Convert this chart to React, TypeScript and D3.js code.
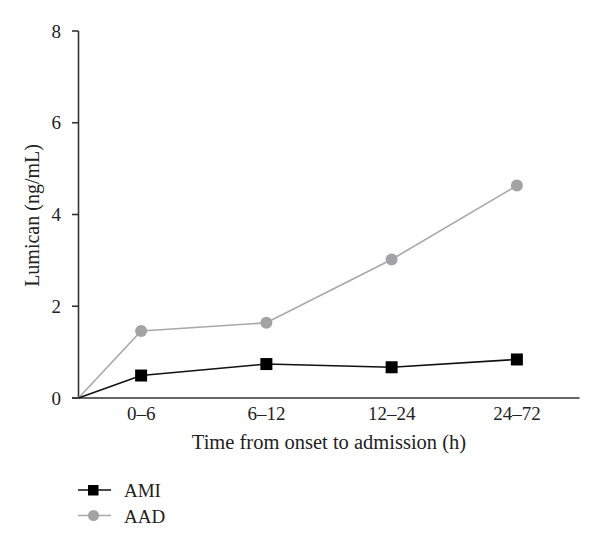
import React from "react";
import * as d3 from "d3";

const categories = ["0–6", "6–12", "12–24", "24–72"];
const amiValues = [0.49, 0.74, 0.67, 0.84];
const aadValues = [1.46, 1.64, 3.02, 4.63];
const yTicks = [0, 2, 4, 6, 8];
const seriesNames = ["AMI", "AAD"];

const W = 600, H = 549;
const FONT = "'Liberation Serif', 'DejaVu Serif', serif";

export default function App() {
  const x = d3.scaleBand<string>().domain(categories).range([78.5, 579.5]).padding(0);
  const y = d3.scaleLinear().domain([0, 8]).range([398, 31]);
  const cx = (c: string) => (x(c) as number) + x.bandwidth() / 2;

  const line = d3
    .line<[number, number]>()
    .x((d) => d[0])
    .y((d) => d[1]);

  const pts = (vals: number[]): [number, number][] => [
    [x.range()[0], y(0)],
    ...categories.map((c, i) => [cx(c), y(vals[i])] as [number, number]),
  ];

  const gray = "#a3a3a5";
  const grayLine = "#a8a8a8";

  return (
    <svg width={W} height={H} style={{ display: "block", position: "absolute", left: 0, top: 0 }}>
      <rect width={W} height={H} fill="#fff" />
      {/* y axis */}
      <line x1={78.5} x2={78.5} y1={y(8)} y2={y(0)} stroke="#333" strokeWidth={1.6} />
      {yTicks.map((t) => (
        <g key={t}>
          <line x1={72} x2={78.5} y1={y(t)} y2={y(t)} stroke="#333" strokeWidth={1.6} />
          <text x={61} y={y(t)} dy="0.35em" textAnchor="end" fontFamily={FONT} fontSize={19} fill="#222">
            {t}
          </text>
        </g>
      ))}
      {/* x axis */}
      <line x1={72} x2={579.5} y1={y(0)} y2={y(0)} stroke="#333" strokeWidth={1.6} />
      {categories.map((c) => (
        <text key={c} x={cx(c)} y={420} textAnchor="middle" fontFamily={FONT} fontSize={19} fill="#222">
          {c}
        </text>
      ))}
      <text x={329} y={449} textAnchor="middle" fontFamily={FONT} fontSize={20.5} fill="#222">
        Time from onset to admission (h)
      </text>
      <text
        transform={`translate(39, 215.5) rotate(-90)`}
        textAnchor="middle"
        fontFamily={FONT}
        fontSize={20}
        fill="#222"
      >
        Lumican (ng/mL)
      </text>

      {/* AAD */}
      <path d={line(pts(aadValues)) || ""} fill="none" stroke={grayLine} strokeWidth={1.6} />
      {categories.map((c, i) => (
        <circle key={c} cx={cx(c)} cy={y(aadValues[i])} r={6} fill={gray} />
      ))}
      {/* AMI */}
      <path d={line(pts(amiValues)) || ""} fill="none" stroke="#111" strokeWidth={1.6} />
      {categories.map((c, i) => (
        <rect key={c} x={cx(c) - 6} y={y(amiValues[i]) - 6} width={12} height={12} fill="#000" />
      ))}

      {/* legend */}
      <g>
        <line x1={78} x2={111} y1={490} y2={490} stroke="#111" strokeWidth={1.6} />
        <rect x={88} y={485} width={10.5} height={10.5} fill="#000" />
        <text x={124} y={497} fontFamily={FONT} fontSize={19} fill="#222">
          {seriesNames[0]}
        </text>
        <line x1={78} x2={111} y1={515.5} y2={515.5} stroke={grayLine} strokeWidth={1.6} />
        <circle cx={93.5} cy={515.5} r={5.5} fill={gray} />
        <text x={124} y={522.5} fontFamily={FONT} fontSize={19} fill="#222">
          {seriesNames[1]}
        </text>
      </g>
    </svg>
  );
}
